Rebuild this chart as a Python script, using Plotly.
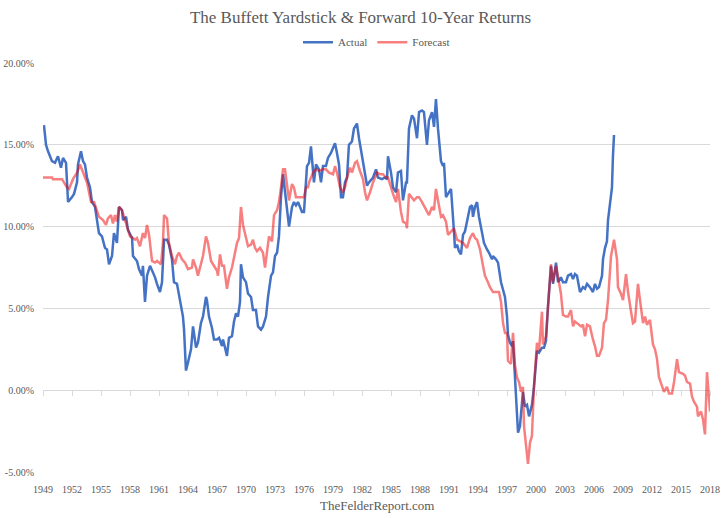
import plotly.graph_objects as go

# ---------------- data ----------------
actual_years = [
    1949.10, 1949.31, 1949.52, 1949.93, 1950.24, 1950.55, 1950.86, 1951.07, 1951.38, 1951.59,
    1952.00, 1952.21, 1952.52, 1952.62, 1952.93, 1953.14, 1953.34, 1953.55, 1953.86, 1954.07,
    1954.38, 1954.59, 1954.79, 1955.10, 1955.21, 1955.41, 1955.62, 1955.83, 1956.14, 1956.34,
    1956.65, 1956.86, 1957.17, 1957.28, 1957.59, 1957.79, 1958.21, 1958.31, 1958.72, 1958.93,
    1959.24, 1959.34, 1959.55, 1959.76, 1960.07, 1960.38, 1960.59, 1960.79, 1961.10, 1961.31,
    1961.52, 1961.83, 1962.03, 1962.34, 1962.55, 1962.86, 1963.17, 1963.48, 1963.59, 1963.79,
    1964.00, 1964.31, 1964.52, 1964.83, 1965.03, 1965.34, 1965.55, 1965.86, 1965.96, 1966.17,
    1966.48, 1966.69, 1967.00, 1967.21, 1967.52, 1967.62, 1967.83, 1968.03, 1968.24, 1968.55,
    1968.76, 1968.97, 1969.17, 1969.38, 1969.48, 1969.69, 1970.00, 1970.21, 1970.52, 1970.72,
    1971.03, 1971.24, 1971.55, 1971.76, 1972.07, 1972.28, 1972.59, 1972.79, 1973.00, 1973.21,
    1973.41, 1973.62, 1973.83, 1974.03, 1974.24, 1974.45, 1974.76, 1974.96, 1975.17, 1975.38,
    1975.59, 1975.79, 1976.00, 1976.31, 1976.52, 1976.72, 1977.03, 1977.24, 1977.55, 1977.76,
    1977.96, 1978.27, 1978.48, 1978.79, 1979.00, 1979.21, 1979.41, 1979.62, 1979.83, 1980.03,
    1980.24, 1980.45, 1980.65, 1980.96, 1981.17, 1981.48, 1981.69, 1982.00, 1982.21, 1982.52,
    1982.72, 1983.14, 1983.45, 1983.65, 1984.07, 1984.38, 1984.59, 1984.69, 1985.00, 1985.21,
    1985.52, 1985.72, 1986.03, 1986.24, 1986.55, 1986.65, 1986.86, 1987.17, 1987.38, 1987.69,
    1987.90, 1988.21, 1988.41, 1988.72, 1988.93, 1989.24, 1989.45, 1989.65, 1989.86, 1990.17,
    1990.38, 1990.48, 1990.69, 1990.90, 1991.21, 1991.41, 1991.62, 1991.83, 1992.03, 1992.24,
    1992.45, 1992.65, 1992.86, 1993.17, 1993.38, 1993.48, 1993.69, 1993.90, 1994.10, 1994.41,
    1994.62, 1994.93, 1995.14, 1995.45, 1995.55, 1995.86, 1996.07, 1996.38, 1996.59, 1996.79,
    1997.00, 1997.10, 1997.31, 1997.52, 1997.62, 1997.83, 1998.03, 1998.14, 1998.34, 1998.55,
    1998.65, 1998.86, 1999.07, 1999.28, 1999.58, 1999.79, 2000.10, 2000.31, 2000.62, 2000.83,
    2001.03, 2001.24, 2001.55, 2001.76, 2002.07, 2002.28, 2002.58, 2002.79, 2003.10, 2003.31,
    2003.62, 2003.83, 2004.03, 2004.24, 2004.55, 2004.86, 2005.07, 2005.28, 2005.58, 2005.89,
    2006.10, 2006.31, 2006.52, 2006.83, 2006.93, 2007.14, 2007.34, 2007.45, 2007.65, 2007.86,
    2007.96, 2008.07,
]
actual_pct = [
    16.2, 15.0, 14.6, 14.0, 13.9, 14.3, 13.6, 14.2, 13.9, 11.5,
    11.8, 12.0, 12.7, 13.8, 14.6, 14.0, 13.8, 13.0, 12.4, 11.5,
    11.2, 10.3, 9.6, 9.4, 9.1, 8.7, 8.6, 7.7, 8.2, 9.6,
    9.0, 11.2, 11.0, 10.4, 10.6, 9.8, 9.3, 8.2, 7.9, 7.4,
    7.0, 7.6, 5.4, 7.0, 7.6, 7.2, 6.9, 6.5, 6.0, 6.6,
    9.2, 9.2, 8.9, 8.0, 6.6, 6.5, 5.4, 4.5, 3.7, 1.2,
    1.7, 2.5, 3.9, 2.6, 2.9, 4.1, 4.5, 5.7, 5.5, 4.5,
    3.8, 3.1, 3.1, 3.2, 2.7, 3.1, 2.6, 2.1, 3.2, 3.3,
    4.2, 4.7, 4.5, 5.4, 7.7, 6.9, 6.6, 5.9, 5.7, 4.9,
    4.9, 3.9, 3.7, 3.9, 4.5, 5.7, 7.0, 7.2, 8.2, 8.4,
    9.4, 11.8, 13.2, 12.1, 10.9, 10.0, 11.2, 11.5, 11.3, 11.5,
    11.2, 10.9, 10.9, 13.7, 13.9, 14.9, 12.7, 13.8, 13.5, 12.7,
    13.7, 13.7, 14.2, 14.5, 14.8, 15.1, 14.5, 13.8, 11.8, 11.8,
    12.7, 13.0, 15.0, 15.2, 16.0, 16.3, 15.4, 14.3, 13.5, 12.5,
    12.7, 13.0, 13.5, 13.0, 12.9, 13.0, 12.9, 14.3, 13.3, 12.4,
    12.1, 13.3, 13.4, 11.6, 12.7, 12.7, 16.0, 16.8, 16.6, 15.4,
    17.0, 17.1, 17.0, 15.0, 16.5, 17.0, 16.1, 17.8, 16.0, 14.0,
    13.7, 13.9, 11.8, 12.0, 12.3, 10.6, 8.7, 8.9, 8.5, 8.3,
    9.5, 9.7, 10.3, 11.2, 11.3, 10.6, 11.2, 11.5, 10.6, 9.6,
    9.0, 8.6, 8.4, 8.0, 8.2, 8.0, 7.8, 6.6, 6.2, 5.7,
    4.5, 3.4, 2.9, 2.7, 3.0, 0.5, -1.8, -2.6, -2.2, -0.7,
    -0.1, -1.0, -0.9, -1.6, -0.9, 0.2, 2.4, 2.3, 2.6, 2.6,
    3.0, 5.1, 7.6, 6.5, 7.8, 6.6, 6.9, 6.6, 6.6, 7.0,
    7.1, 6.8, 7.1, 7.0, 6.0, 6.3, 6.2, 6.5, 6.3, 6.0,
    6.5, 6.2, 6.3, 7.0, 8.0, 8.7, 9.1, 10.4, 11.5, 12.4,
    14.3, 15.6,
]

forecast_years = [
    1949.00, 1949.93, 1950.03, 1950.97, 1951.48, 1951.69, 1952.10, 1952.52, 1952.83, 1953.14,
    1953.55, 1953.76, 1953.97, 1954.28, 1954.59, 1954.79, 1955.21, 1955.52, 1955.72, 1956.03,
    1956.24, 1956.45, 1956.65, 1956.86, 1957.17, 1957.48, 1957.69, 1958.00, 1958.31, 1958.52,
    1958.72, 1959.03, 1959.34, 1959.55, 1959.76, 1959.97, 1960.28, 1960.59, 1960.79, 1961.21,
    1961.41, 1961.52, 1961.83, 1962.03, 1962.34, 1962.66, 1962.86, 1963.07, 1963.38, 1963.69,
    1964.00, 1964.41, 1964.52, 1964.83, 1965.03, 1965.34, 1965.55, 1965.86, 1966.07, 1966.38,
    1966.59, 1967.00, 1967.10, 1967.31, 1967.52, 1967.72, 1968.03, 1968.24, 1968.55, 1968.76,
    1969.07, 1969.28, 1969.48, 1969.69, 1970.00, 1970.21, 1970.52, 1970.72, 1970.93, 1971.14,
    1971.45, 1971.76, 1971.97, 1972.17, 1972.38, 1972.69, 1972.90, 1973.21, 1973.41, 1973.62,
    1973.83, 1974.03, 1974.24, 1974.45, 1974.76, 1974.96, 1975.17, 1975.38, 1975.79, 1976.00,
    1976.21, 1976.41, 1976.52, 1976.93, 1977.24, 1977.55, 1977.96, 1978.27, 1978.59, 1979.00,
    1979.21, 1979.41, 1979.72, 1980.03, 1980.24, 1980.45, 1980.76, 1980.96, 1981.28, 1981.48,
    1981.79, 1982.10, 1982.31, 1982.52, 1982.83, 1983.14, 1983.55, 1983.86, 1984.17, 1984.48,
    1984.69, 1985.00, 1985.21, 1985.52, 1985.72, 1986.03, 1986.24, 1986.55, 1986.65, 1986.86,
    1987.17, 1987.38, 1987.69, 1987.90, 1988.21, 1988.41, 1988.72, 1988.93, 1989.24, 1989.45,
    1989.65, 1989.86, 1990.17, 1990.38, 1990.69, 1990.90, 1991.31, 1991.52, 1991.83, 1992.14,
    1992.45, 1992.86, 1993.17, 1993.48, 1993.69, 1993.90, 1994.21, 1994.52, 1994.72, 1995.03,
    1995.24, 1995.55, 1995.86, 1996.17, 1996.38, 1996.59, 1996.79, 1997.00, 1997.10, 1997.41,
    1997.62, 1997.83, 1998.03, 1998.24, 1998.45, 1998.65, 1998.76, 1998.97, 1999.17, 1999.38,
    1999.58, 1999.79, 2000.10, 2000.31, 2000.62, 2000.72, 2001.03, 2001.24, 2001.55, 2001.76,
    2002.07, 2002.28, 2002.58, 2002.79, 2003.10, 2003.31, 2003.62, 2003.83, 2004.03, 2004.24,
    2004.66, 2004.86, 2005.07, 2005.28, 2005.58, 2005.89, 2006.10, 2006.31, 2006.52, 2006.83,
    2007.03, 2007.24, 2007.45, 2007.76, 2007.96, 2008.07, 2008.38, 2008.48, 2008.79, 2009.00,
    2009.31, 2009.52, 2009.83, 2010.03, 2010.24, 2010.55, 2010.76, 2011.07, 2011.28, 2011.48,
    2011.79, 2012.10, 2012.31, 2012.52, 2012.72, 2013.03, 2013.24, 2013.55, 2013.76, 2014.07,
    2014.28, 2014.59, 2014.79, 2015.21, 2015.41, 2015.62, 2015.93, 2016.14, 2016.34, 2016.65,
    2016.76, 2017.07, 2017.28, 2017.48, 2017.69, 2018.00,
]
forecast_pct = [
    13.0, 13.0, 12.9, 12.9, 12.4, 12.3, 12.9, 13.3, 13.8, 13.3,
    12.7, 12.1, 11.5, 11.5, 11.0, 10.6, 10.4, 10.1, 10.5, 10.7,
    10.2, 10.7, 10.3, 11.2, 11.0, 10.4, 9.9, 9.4, 9.3, 9.2,
    9.3, 8.8, 9.6, 9.3, 10.1, 9.5, 7.9, 7.8, 7.9, 7.7,
    9.0, 10.7, 10.5, 9.0, 8.2, 7.7, 8.2, 8.4, 8.0, 7.8,
    7.4, 7.5, 8.0, 7.5, 7.0, 7.7, 8.2, 9.4, 9.0, 7.9,
    7.7, 7.3, 7.0, 8.3, 7.6, 7.6, 6.2, 6.9, 7.5, 8.2,
    9.0, 9.3, 11.2, 10.1, 9.4, 8.8, 8.9, 9.2, 8.7, 8.5,
    8.7, 8.4, 7.5, 8.6, 9.4, 9.1, 10.7, 11.0, 11.5, 12.4,
    13.5, 13.5, 12.4, 11.6, 12.6, 12.4, 11.8, 11.8, 11.8, 11.8,
    12.4, 12.4, 12.7, 13.3, 13.5, 13.4, 13.5, 13.5, 13.3, 13.2,
    13.7, 13.3, 12.4, 12.1, 12.4, 13.0, 13.6, 13.3, 13.9, 14.0,
    13.4, 12.9, 12.1, 11.6, 12.1, 12.7, 13.3, 13.2, 13.2, 13.0,
    13.0, 12.3, 12.0, 11.5, 12.3, 10.9, 10.3, 10.2, 9.9, 12.0,
    11.8, 11.6, 11.8, 11.8, 11.5, 11.3, 10.9, 10.7, 11.2, 11.0,
    12.3, 11.5, 10.6, 10.7, 10.3, 9.5, 9.8, 9.9, 9.2, 9.1,
    9.0, 8.7, 9.3, 9.6, 9.3, 9.2, 8.6, 7.6, 7.0, 6.6,
    6.3, 6.0, 6.0, 6.0, 5.4, 4.1, 3.5, 3.5, 1.8, 1.6,
    3.5, 1.5, 0.8, 0.5, -0.1, 0.2, -2.2, -3.5, -4.5, -3.2,
    -2.8, 0.2, 2.9, 2.4, 4.8, 2.8, 3.3, 5.1, 7.7, 6.6,
    7.6, 6.9, 5.9, 4.6, 4.5, 4.5, 4.9, 3.9, 4.2, 4.1,
    3.9, 4.0, 3.3, 4.0, 3.9, 3.1, 2.7, 2.1, 2.1, 2.6,
    4.1, 4.3, 5.5, 8.2, 8.8, 9.2, 8.0, 6.3, 5.9, 5.5,
    7.1, 6.0, 4.8, 4.1, 4.2, 6.5, 5.5, 4.1, 4.5, 4.0,
    4.3, 2.8, 2.5, 1.9, 0.8, 0.2, -0.1, 0.2, -0.2, -0.2,
    0.5, 1.9, 1.1, 1.0, 0.9, 0.5, 0.4, -0.4, -0.7, -1.0,
    -1.6, -1.3, -1.8, -2.7, 1.1, -1.3,
]

x_tick_years = list(range(1949, 2019, 3))
x_tick_labels = [str(y) for y in x_tick_years]
x_range = [1949, 2018]
y_tick_values = [-5, 0, 5, 10, 15, 20]
y_tick_labels = ["-5.00%", "0.00%", "5.00%", "10.00%", "15.00%", "20.00%"]

assert len(actual_years) == len(actual_pct)
assert len(forecast_years) == len(forecast_pct)

# ---------------- figure ----------------
GRAY = "#595959"
GRID = "#d9d9d9"
FONT = "Liberation Serif"

fig = go.Figure()
fig.add_trace(go.Scatter(
    x=actual_years, y=actual_pct, mode="lines", name="Actual",
    line=dict(color="#4472C4", width=2.5),
))
fig.add_trace(go.Scatter(
    x=forecast_years, y=forecast_pct, mode="lines", name="Forecast",
    line=dict(color="rgba(240,0,0,0.5)", width=2.5),
))
# empty helper trace so that the tick-mark axis sitting on the 0% line is drawn
fig.add_trace(go.Scatter(
    x=[x_range[0], x_range[1]], y=[None, None], xaxis="x2", yaxis="y",
    mode="lines", showlegend=False, hoverinfo="skip",
))

fig.update_layout(
    template="none",
    width=721, height=518,
    margin=dict(l=43, r=11, t=63, b=46, autoexpand=False),
    paper_bgcolor="white", plot_bgcolor="white",
    font=dict(family=FONT, color=GRAY, size=11),
    title=dict(
        text="The Buffett Yardstick & Forward 10-Year Returns",
        x=0.5, xanchor="center", y=0.967, yanchor="middle",
        font=dict(family=FONT, size=17, color=GRAY),
    ),
    legend=dict(
        orientation="h", x=0.5, xanchor="center", y=1.051, yanchor="middle",
        font=dict(family=FONT, size=11, color=GRAY),
        itemwidth=30, bgcolor="rgba(0,0,0,0)",
    ),
    showlegend=True,
    xaxis=dict(
        range=x_range, autorange=False, automargin=False,
        tickvals=x_tick_years, ticktext=x_tick_labels,
        showgrid=False, showline=False, zeroline=False,
        ticks="outside", ticklen=8, tickcolor="rgba(0,0,0,0)",
        tickfont=dict(family=FONT, size=10, color=GRAY),
    ),
    xaxis2=dict(
        overlaying="x", anchor="free", position=0.2,
        range=x_range, autorange=False, automargin=False,
        tickvals=x_tick_years, showticklabels=False,
        ticks="outside", ticklen=5, tickcolor=GRID, tickwidth=1,
        showgrid=False, showline=False, zeroline=False,
    ),
    yaxis=dict(
        range=[-5, 20], autorange=False, automargin=False,
        tickvals=y_tick_values, ticktext=y_tick_labels,
        showgrid=True, gridcolor=GRID, gridwidth=1,
        zeroline=False, showline=False,
        ticks="outside", ticklen=6, tickcolor="rgba(0,0,0,0)",
        tickfont=dict(family=FONT, size=10, color=GRAY),
    ),
    annotations=[dict(
        text="TheFelderReport.com", x=0.5, xref="paper", y=-0.081, yref="paper",
        xanchor="center", yanchor="middle", showarrow=False,
        font=dict(family=FONT, size=13, color=GRAY),
    )],
)

fig.write_html(
    "out.html",
    config={"displayModeBar": False},
    post_script="document.body.style.margin='0';",
)
